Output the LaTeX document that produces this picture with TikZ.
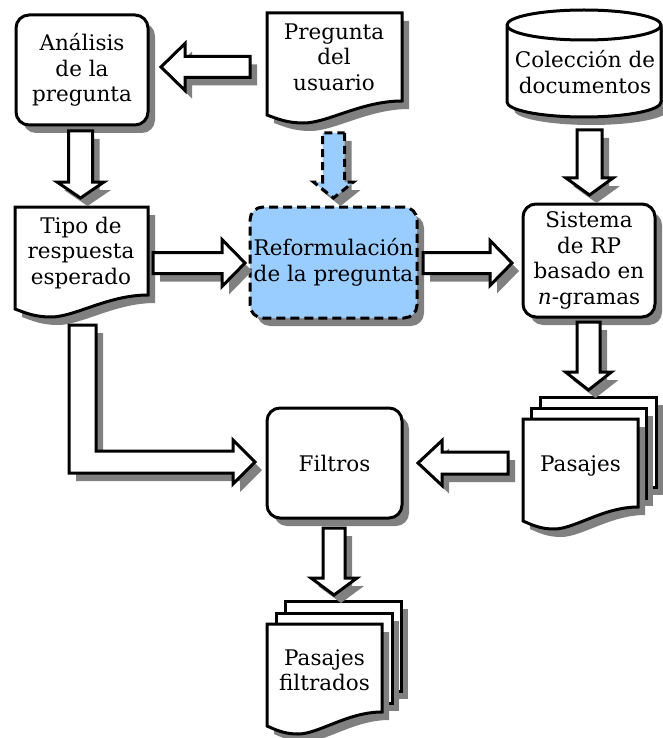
\documentclass[tikz,border=0pt]{standalone}
\usepackage{fontspec}
\setmainfont{DejaVu Serif}
\usetikzlibrary{calc,shadows}
\definecolor{reformblue}{RGB}{153,204,255}
\newcommand\lbl{\fontsize{21.5}{25.5}\selectfont}

% block arrow: [style]{start}{tip}{shaft half width}{head half width}{head length}
\newcommand\blockarrow[6][]{%
  \coordinate (ba-h) at ($(#3)!#6!(#2)$);
  \path[arrowbody,#1] ($(#2)!#4!90:(#3)$) -- ($(ba-h)!#4!90:(#3)$)
    -- ($(ba-h)!#5!90:(#3)$) -- (#3) -- ($(ba-h)!#5!-90:(#3)$)
    -- ($(ba-h)!#4!-90:(#3)$) -- ($(#2)!#4!-90:(#3)$) -- cycle;}

% document sheet with a wavy bottom: [style]{left}{top}{right}
\newcommand\docsheet[4][]{%
  \path[sheet,#1] (#2,#3) -- (#4,#3) -- (#4,{#3+88})
    .. controls ({#4-0.3*(#4-#2)},{#3+88}) and ({#2+0.45*(#4-#2)},{#3+110}) .. ({#2+0.27*(#4-#2)},{#3+110})
    .. controls ({#2+0.15*(#4-#2)},{#3+110}) and ({#2+0.08*(#4-#2)},{#3+106}) .. (#2,{#3+102}) -- cycle;}

% plain back sheet of a stack: {left}{top}{right}
\newcommand\backsheet[3]{%
  \path[sheet] (#1,#2) rectangle (#3,{#2+90});}

\begin{document}
\begin{tikzpicture}[
  x=1pt, y=-1pt,
  outline/.style={draw=black, line width=3pt},
  shade drop/.style={drop shadow={shadow xshift=7pt, shadow yshift=-8pt, fill=gray, opacity=1}},
  procbox/.style={outline, fill=white, rounded corners=13pt, shade drop,
    inner sep=0pt, align=center, font=\lbl},
  reformbox/.style={procbox, fill=reformblue, dash pattern=on 9pt off 5pt},
  sheet/.style={outline, fill=white, shade drop},
  doctext/.style={align=center, font=\lbl, inner sep=0pt},
  arrowbody/.style={outline, fill=white, shade drop},
  dashedarrow/.style={fill=reformblue, dash pattern=on 8pt off 5pt},
]
\useasboundingbox (0,0) rectangle (663,738);

% process boxes
\node[procbox, minimum width=132pt, minimum height=110pt] (ana) at (82,70)
  {Análisis\\de la\\pregunta};
\node[reformbox, minimum width=167pt, minimum height=111pt] (ref) at (333.5,262.5)
  {Reformulación\\de la pregunta};
\node[procbox, minimum width=132pt, minimum height=113pt] (sis) at (589,260.5)
  {Sistema\\de RP\\basado en\\\textit{n}-gramas};
\node[procbox, minimum width=135pt, minimum height=110pt] (fil) at (334.5,463)
  {Filtros};

% documents
\docsheet{267}{13}{402}
\node[doctext] (preg) at (334,57) {Pregunta\\del\\usuario};
\docsheet{15}{207}{148}
\node[doctext] (tipo) at (81,253) {Tipo de\\respuesta\\esperado};

% stack of passages
\backsheet{540}{397}{656}
\backsheet{531}{408}{646}
\docsheet{523}{419}{638}
\node[doctext] (pas) at (580.5,466) {Pasajes};

% stack of filtered passages
\backsheet{285}{601}{401}
\backsheet{276}{613}{392}
\docsheet{267}{624}{382}
\node[doctext] (pasf) at (324.5,670) {Pasajes\\filtrados};

% document collection (cylinder)
\path[sheet] (507,25) -- (507,102)
  arc[start angle=180, end angle=360, x radius=77pt, y radius=15pt]
  -- (661,25)
  arc[start angle=0, end angle=180, x radius=77pt, y radius=15pt] -- cycle;
\draw[line width=3pt] (507,25)
  arc[start angle=180, end angle=360, x radius=77pt, y radius=15pt];
\node[doctext] (col) at (585,72) {Colección de\\documentos};

% arrow end points
\coordinate (preg-out) at (250,67);
\coordinate (ana-in) at (161,67);
\coordinate (ana-out) at (80.5,131);
\coordinate (tipo-in) at (80.5,198);
\coordinate (preg-down) at (333.5,133);
\coordinate (ref-top) at (333.5,198);
\coordinate (col-out) at (589.5,130);
\coordinate (sis-in) at (589.5,195);
\coordinate (tipo-out) at (153,263);
\coordinate (ref-in) at (245,263);
\coordinate (ref-out) at (423,263);
\coordinate (sis-left) at (512,263);
\coordinate (sis-out) at (588.5,322);
\coordinate (pas-in) at (588.5,390);
\coordinate (pas-out) at (508,463);
\coordinate (fil-right) at (418,463);
\coordinate (fil-out) at (334,528);
\coordinate (pasf-in) at (334,595);

% block arrows
\blockarrow{preg-out}{ana-in}{10.5pt}{23.5pt}{24pt}
\blockarrow{ana-out}{tipo-in}{12pt}{23.5pt}{16pt}
\blockarrow[dashedarrow]{preg-down}{ref-top}{11pt}{20pt}{16pt}
\blockarrow{col-out}{sis-in}{12.5pt}{23.5pt}{17pt}
\blockarrow{tipo-out}{ref-in}{10.5pt}{23.5pt}{23pt}
\blockarrow{ref-out}{sis-left}{10.5pt}{22.5pt}{22pt}
\blockarrow{sis-out}{pas-in}{11.5pt}{23pt}{18pt}
\blockarrow{pas-out}{fil-right}{11pt}{22.5pt}{24pt}
\blockarrow{fil-out}{pasf-in}{11pt}{23pt}{17pt}

% bent arrow from the expected answer type to the filters
\coordinate (tipo-down) at (82.5,325);
\coordinate (fil-left) at (255,462);
\coordinate (bend-in) at ($(tipo-down)+(13.5,0)$);
\coordinate (bend-out) at ($(tipo-down)+(-13.5,0)$);
\coordinate (shaft-top) at ($(fil-left)+(-22,-11)$);
\coordinate (shaft-bot) at ($(fil-left)+(-22,11)$);
\path[arrowbody] (bend-out) -- (bend-in) -- (bend-in |- shaft-top)
  -- (shaft-top) -- ($(fil-left)+(-22,-22)$) -- (fil-left)
  -- ($(fil-left)+(-22,22)$) -- (shaft-bot)
  -- (bend-out |- shaft-bot) -- cycle;
\end{tikzpicture}
\end{document}
